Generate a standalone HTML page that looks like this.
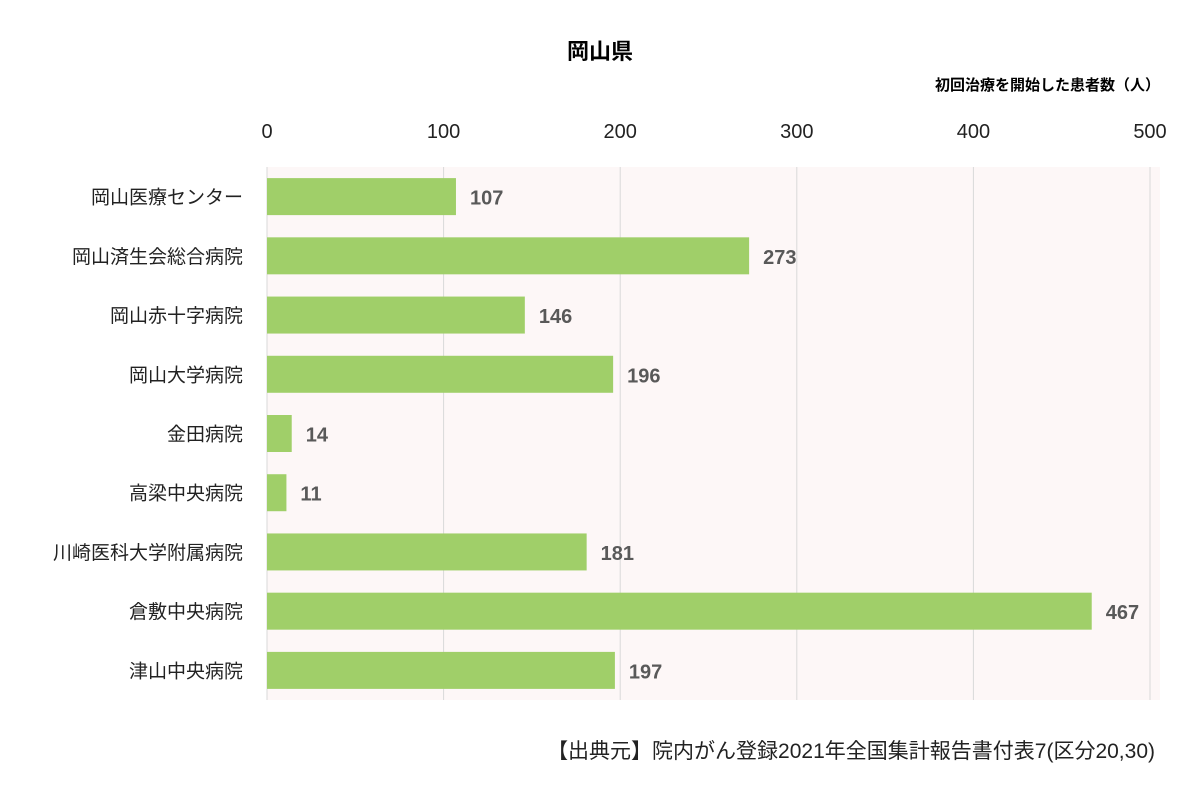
<!DOCTYPE html>
<html><head><meta charset="utf-8"><style>
body{margin:0;background:#fff;width:1200px;height:799px;overflow:hidden;font-family:"Liberation Sans","Noto Sans CJK JP",sans-serif}
</style></head><body>
<svg width="1200" height="799" id="c" font-family="'Liberation Sans','Noto Sans CJK JP',sans-serif">
<text x="600" y="59" text-anchor="middle" font-size="22" font-weight="bold" fill="#000">岡山県</text>
<text x="1160" y="90" text-anchor="end" font-size="15" font-weight="bold" fill="#000">初回治療を開始した患者数（人）</text>
<text x="1155" y="758" text-anchor="end" font-size="21" fill="#222">【出典元】院内がん登録2021年全国集計報告書付表7(区分20,30)</text>
</svg>
<script>
const categories=["岡山医療センター","岡山済生会総合病院","岡山赤十字病院","岡山大学病院","金田病院","高梁中央病院","川崎医科大学附属病院","倉敷中央病院","津山中央病院"];
const values=[107,273,146,196,14,11,181,467,197];
const ticks=[0,100,200,300,400,500];
const svg=document.getElementById('c');const NS='http://www.w3.org/2000/svg';
const L=267,R=1150,T=167,B=700,max=500;
const x=v=>L+(R-L)*v/max;const band=(B-T)/categories.length;const y=i=>T+band*i;
function mk(t,a){const e=document.createElementNS(NS,t);for(const k in a)e.setAttribute(k,a[k]);svg.appendChild(e);return e;}
const bg=mk('rect',{x:L,y:T,width:R-L+10,height:B-T,fill:'#fdf7f7'});


ticks.forEach(t=>{
const g=mk('line',{x1:x(t),x2:x(t),y1:T,y2:B,stroke:'#d9d9d9','stroke-width':1});


const l=mk('text',{x:x(t),y:138,'text-anchor':'middle','font-size':20,fill:'#222'});l.textContent=t;


});
categories.forEach((c,i)=>{
const cy=y(i)+band/2;
const b=mk('rect',{x:L,y:cy-18.5,width:x(values[i])-L,height:37,fill:'#a0cf69'});


const v=mk('text',{x:x(values[i])+14,y:cy+8,'font-size':20,'font-weight':'bold',fill:'#595959'});v.textContent=values[i];


const cl=mk('text',{x:243,y:cy+7,'text-anchor':'end','font-size':19,fill:'#222'});cl.textContent=c;


});
</script>
</body></html>
